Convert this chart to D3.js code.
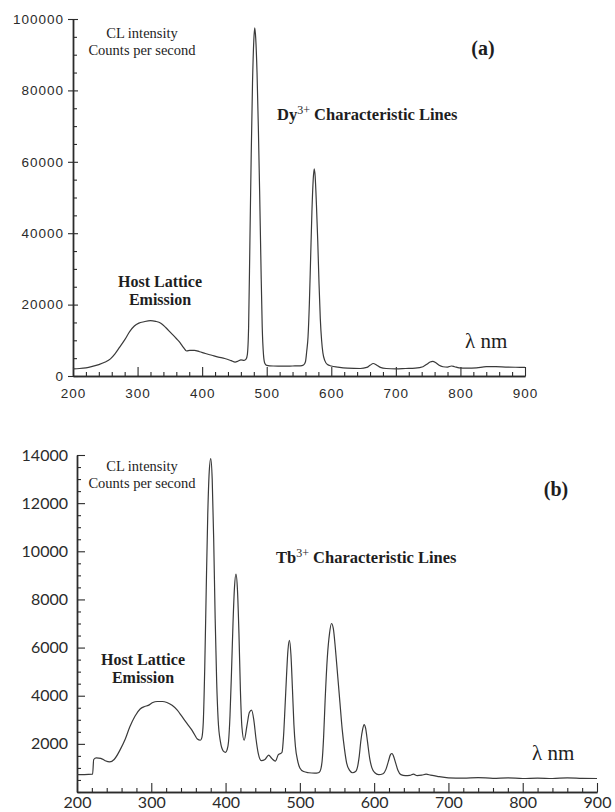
<!DOCTYPE html>
<html>
<head>
<meta charset="utf-8">
<script src="https://cdn.jsdelivr.net/npm/d3@7"></script>
<style>
  html, body { margin: 0; padding: 0; background: #fff; }
  svg { display: block; }
</style>
</head>
<body>
<script>
// ---- Panel (a): Dy3+ doped phosphor, CL spectrum ----
const wavelengthA = [200, 210, 220, 230, 240, 250, 258, 265, 272, 280, 288, 295, 302, 310, 320, 328, 336, 344, 352, 360,
  366, 371, 376, 381, 388, 396, 405, 415, 425, 435, 445, 451, 456, 460, 465, 468, 470, 472, 474, 476,
  478, 480, 481.5, 483, 485, 487, 489, 491, 493, 495, 497, 500, 510, 525, 540, 552, 557, 560, 562, 564,
  566, 568, 570, 572, 573.5, 575, 577, 579, 581, 583, 585, 587, 590, 594, 600, 610, 625, 645, 655, 660,
  665, 670, 676, 685, 700, 715, 730, 742, 748, 753, 757, 762, 767, 773, 780, 786, 791, 798, 810, 825,
  840, 855, 870, 885, 900];
const countsA = [2000, 2100, 2300, 2700, 3200, 3900, 4800, 6200, 8000, 10100, 12500, 14000, 14800, 15200, 15500, 15300, 14800, 13500, 12000, 10500,
  9300, 8000, 7000, 7200, 7200, 6800, 6300, 5800, 5300, 4900, 4300, 3900, 4200, 4500, 4400, 4700, 6000, 14000, 38000, 62000,
  82000, 94000, 97500, 94500, 85000, 70000, 52000, 32000, 14000, 6000, 3600, 3000, 2800, 2750, 2800, 2850, 3100, 4000, 7000, 11000,
  20000, 33000, 46000, 55000, 58000, 56000, 48000, 38000, 26000, 16000, 10000, 6500, 4300, 3200, 2800, 2500, 2200, 2100, 2400, 3000,
  3500, 3100, 2400, 2100, 2000, 2100, 2200, 2600, 3300, 3900, 4100, 3700, 3000, 2600, 2500, 2800, 2600, 2300, 2200, 2300,
  2600, 2600, 2500, 2450, 2400];

// ---- Panel (b): Tb3+ doped phosphor, CL spectrum ----
const wavelengthB = [200, 210, 221, 222.5, 226, 232, 238, 244, 250, 258, 265, 271, 278, 285, 291, 296, 302, 308, 315, 321,
  328, 335, 341, 348, 354, 358, 362, 366, 368, 370, 372, 374, 376, 378, 380, 382, 384, 386, 388, 390,
  393, 397, 400, 402, 404, 406, 408, 410, 412, 414, 416, 418, 420, 422, 425, 429, 432, 435, 438, 441,
  444, 448, 453, 458, 462, 467, 471, 474, 476, 478, 480, 482, 484, 486, 488, 490, 492, 494, 497, 500,
  505, 512, 520, 525, 527, 530, 532, 534, 537, 540, 542.5, 545, 548, 551, 554, 557, 560, 563, 567, 571,
  575, 578, 580, 582, 584.5, 586.5, 588.5, 591, 594, 597, 601, 606, 612, 616, 619, 622, 624, 626, 629, 632,
  636, 642, 648, 653, 658, 664, 670, 676, 685, 700, 720, 740, 760, 780, 800, 820, 840, 860, 880, 900];
const countsB = [720, 720, 740, 1350, 1420, 1400, 1300, 1250, 1350, 1750, 2200, 2700, 3150, 3450, 3550, 3600, 3720, 3760, 3760, 3720,
  3600, 3400, 3150, 2850, 2600, 2400, 2200, 2150, 2250, 2900, 5200, 8500, 11500, 13300, 13850, 13000, 10500, 7200, 4600, 3000,
  2100, 1700, 1650, 1750, 2100, 3200, 5000, 7000, 8500, 9050, 8400, 6600, 4200, 2700, 2150, 2800, 3300, 3400, 3000, 2200,
  1600, 1300, 1350, 1530, 1400, 1280, 1550, 1600, 1650, 2300, 3500, 4800, 5900, 6300, 5700, 4300, 2800, 1900, 1300, 1000,
  850, 800, 780, 800, 850, 1300, 2300, 3800, 5600, 6600, 7000, 6800, 5900, 4800, 3700, 2600, 1800, 1200, 900, 800,
  850, 1100, 1500, 2100, 2600, 2800, 2650, 2100, 1400, 1000, 800, 720, 760, 950, 1250, 1550, 1600, 1500, 1200, 900,
  720, 680, 690, 740, 680, 700, 740, 700, 650, 590, 580, 600, 570, 590, 560, 580, 560, 590, 570, 560];

// ---- Axis tick values ----
const wavelengthTicks = [200, 300, 400, 500, 600, 700, 800, 900];
const countTicksA = [0, 20000, 40000, 60000, 80000, 100000];
const countTicksB = [2000, 4000, 6000, 8000, 10000, 12000, 14000];

const W = 615, H = 812;
const INK = "#2b2b2b";
const svg = d3.select("body").append("svg").attr("width", W).attr("height", H);
svg.append("rect").attr("width", W).attr("height", H).attr("fill", "#fff");

function minorValues(domain, step, majors) {
  return d3.range(domain[0], domain[1] + step / 2, step).filter(v => !majors.includes(v));
}

function styleAxis(g, font) {
  g.select(".domain").attr("stroke", INK).attr("stroke-width", 1.3);
  g.selectAll(".tick line").attr("stroke", INK).attr("stroke-width", 1.1);
  g.selectAll(".tick text")
    .attr("fill", INK)
    .style("font-family", font.family)
    .style("font-size", font.size + "px")
    .style("letter-spacing", font.spacing + "px");
}

function drawPanel(p) {
  const x = d3.scaleLinear().domain([200, 900]).range(p.xRange);
  const y = d3.scaleLinear().domain(p.yDomain).range(p.yRange);
  const g = svg.append("g");

  // x axis: major ticks pointing up, with labels below
  const gx = g.append("g").attr("transform", `translate(0,${p.yRange[0]})`)
    .call(d3.axisBottom(x).tickValues(wavelengthTicks).tickFormat(d3.format("d"))
      .tickSizeInner(-p.xMajor).tickSizeOuter(0).tickPadding(p.xPad));
  styleAxis(gx, p.font);
  const gxm = g.append("g").attr("transform", `translate(0,${p.yRange[0]})`)
    .call(d3.axisBottom(x).tickValues(minorValues([200, 900], 20, wavelengthTicks))
      .tickFormat("").tickSizeInner(-4).tickSizeOuter(0));
  styleAxis(gxm, p.font);

  // y axis
  const gy = g.append("g").attr("transform", `translate(${p.xRange[0]},0)`)
    .call(d3.axisLeft(y).tickValues(p.yTicks).tickFormat(d3.format("d"))
      .tickSizeInner(p.yOut).tickSizeOuter(0).tickPadding(p.yPad));
  styleAxis(gy, p.font);
  const gyi = g.append("g").attr("transform", `translate(${p.xRange[0]},0)`)
    .call(d3.axisLeft(y).tickValues(p.yTicks).tickFormat("").tickSizeInner(-p.yIn).tickSizeOuter(0));
  styleAxis(gyi, p.font);
  const gym = g.append("g").attr("transform", `translate(${p.xRange[0]},0)`)
    .call(d3.axisLeft(y).tickValues(minorValues(p.yDomain, p.yMinorStep, p.yTicks))
      .tickFormat("").tickSizeInner(-4).tickSizeOuter(0));
  styleAxis(gym, p.font);

  // spectrum
  const line = d3.line().x(d => x(d[0])).y(d => y(d[1])).curve(d3.curveMonotoneX);
  g.append("path").datum(d3.zip(p.wl, p.counts))
    .attr("d", line)
    .attr("fill", "none")
    .attr("stroke", "#3a3a3a")
    .attr("stroke-width", 1.2)
    .attr("stroke-linejoin", "round");

  // annotations
  const serif = "'Liberation Serif', 'Times New Roman', serif";
  const t = (tx, ty, str, size, weight, anchor) => g.append("text")
    .attr("x", tx).attr("y", ty).attr("text-anchor", anchor || "middle")
    .attr("fill", "#1e1e1e").style("font-family", serif)
    .style("font-size", size + "px").style("font-weight", weight || "normal").text(str);

  t(p.cl[0], p.cl[1], "CL intensity", 14.5);
  t(p.cl[0], p.cl[1] + 17, "Counts per second", 14.5);
  t(p.tag[0], p.tag[1], p.tagText, 20, "bold");
  t(p.host[0], p.host[1], "Host Lattice", 16, "bold");
  t(p.host[0], p.host[1] + 18, "Emission", 16, "bold");
  t(p.lam[0], p.lam[1], "\u03bb nm", 21, "normal", "start");

  const ion = g.append("text").attr("x", p.ion[0]).attr("y", p.ion[1])
    .attr("fill", "#1e1e1e").style("font-family", serif)
    .style("font-size", "16.5px").style("font-weight", "bold");
  ion.append("tspan").text(p.ionName);
  ion.append("tspan").attr("dy", -6).style("font-size", "12px").style("font-weight", "normal").text("3+");
  ion.append("tspan").attr("dy", 6).text(" Characteristic Lines");
}

drawPanel({
  wl: wavelengthA, counts: countsA,
  xRange: [73, 525], yRange: [376, 19], yDomain: [0, 100000],
  yTicks: countTicksA, yMinorStep: 5000,
  xMajor: 9, xPad: 12, yOut: 5, yIn: 5, yPad: 4,
  font: { family: "'Liberation Sans', Arial, sans-serif", size: 13.5, spacing: 1 },
  cl: [142, 38], tag: [483, 55], tagText: "(a)",
  host: [160, 287], lam: [465, 348],
  ion: [277, 120], ionName: "Dy"
});

drawPanel({
  wl: wavelengthB, counts: countsB,
  xRange: [77, 597], yRange: [792, 455], yDomain: [0, 14000],
  yTicks: countTicksB, yMinorStep: 500,
  xMajor: 9, xPad: 5, yOut: 0, yIn: 8, yPad: 9,
  font: { family: "Lato, 'Open Sans', sans-serif", size: 16, spacing: 0 },
  cl: [142, 471], tag: [556, 496], tagText: "(b)",
  host: [143, 665], lam: [532, 760],
  ion: [276, 563], ionName: "Tb"
});
</script>
</body>
</html>
